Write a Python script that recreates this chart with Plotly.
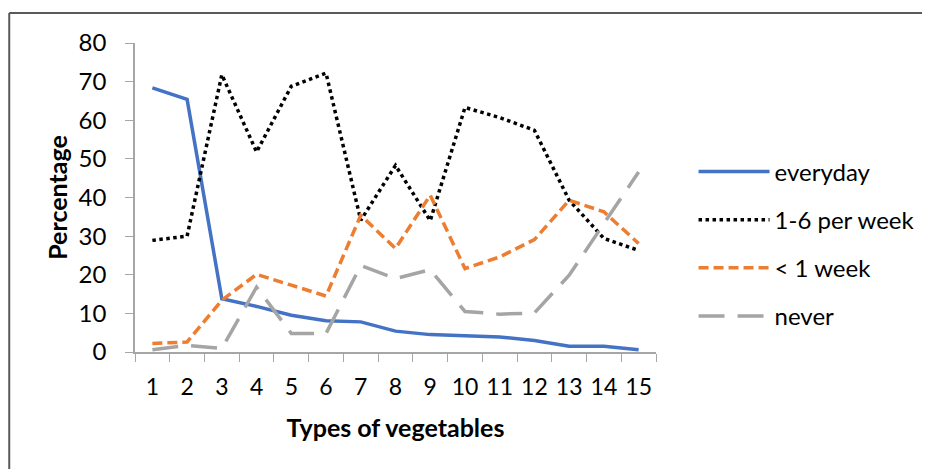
import plotly.graph_objects as go

categories = [str(i) for i in range(1, 16)]
series_names = ["everyday", "1-6 per week", "< 1 week", "never"]
everyday = [68.4, 65.4, 13.8, 11.8, 9.5, 8.1, 7.8, 5.4, 4.5, 4.1, 3.9, 3.0, 1.5, 1.5, 0.6]
per_week = [28.9, 30.0, 71.8, 51.8, 68.8, 72.2, 34.1, 48.3, 34.0, 63.3, 60.7, 57.4, 39.3, 29.4, 26.3]
less_week = [2.2, 2.6, 13.4, 20.1, 17.3, 14.5, 35.4, 26.8, 40.6, 21.6, 24.6, 29.1, 39.3, 36.3, 28.1]
never = [0.6, 1.7, 0.9, 16.8, 4.8, 4.8, 22.4, 19.0, 21.3, 10.5, 9.8, 10.1, 19.9, 33.2, 46.6]
y_ticks = [0, 10, 20, 30, 40, 50, 60, 70, 80]

FONT = "Lato"
styles = [
    dict(color="#4472C4", width=3.5, dash="solid"),
    dict(color="#000000", width=3.5, dash="dot"),
    dict(color="#ED7D31", width=3.5, dash="10px,5px"),
    dict(color="#A5A5A5", width=3.5, dash="26px,13px"),
]

fig = go.Figure()
for i, (name, vals) in enumerate(zip(series_names, [everyday, per_week, less_week, never])):
    fig.add_trace(go.Scatter(
        x=categories, y=vals, mode="lines", name=name,
        line=styles[i], legendgroup=f"g{i}",
    ))

# page body has an 8px margin, so the figure is 922x461 placed at (8,8)
W, H = 922, 461
L, T, R, B = 127, 35, 273, 117

fig.update_layout(
    width=W, height=H,
    margin=dict(l=L, r=R, t=T, b=B),
    paper_bgcolor="white", plot_bgcolor="white",
    font=dict(family=FONT, size=24, color="#000000"),
    showlegend=True,
    legend=dict(
        x=1.07, y=0.35, xanchor="left", yanchor="middle",
        font=dict(family=FONT, size=24, color="#000000"),
        tracegroupgap=14, itemwidth=71, bgcolor="rgba(0,0,0,0)",
    ),
    xaxis=dict(
        type="category", tickson="boundaries", ticks="outside", ticklen=8,
        tickcolor="#A6A6A6", showline=True, linecolor="#A6A6A6", linewidth=1.5,
        showgrid=False, zeroline=False, range=[-0.5, 14.5], tickangle=0,
        tickfont=dict(family=FONT, size=23), ticklabelstandoff=14,
        title=dict(text="<b>Types of vegetables</b>", font=dict(family=FONT, size=25), standoff=20),
    ),
    yaxis=dict(
        range=[0, 80], tickvals=y_ticks, ticks="outside", ticklen=8,
        tickcolor="#A6A6A6", showline=True, linecolor="#A6A6A6", linewidth=1.5,
        showgrid=False, zeroline=False,
        tickfont=dict(family=FONT, size=24), ticklabelstandoff=14,
        title=dict(text="<b>Percentage</b>", font=dict(family=FONT, size=25), standoff=4),
    ),
)

# chart frame (left and top edges), in figure pixels converted to paper coords
PW = W - L - R
PH = H - T - B

def px_x(p):
    return (p - L) / PW

def px_y(p):
    return (H - B - p) / PH

fig.add_shape(type="line", xref="paper", yref="paper",
              x0=px_x(1), x1=px_x(W + 2), y0=px_y(5), y1=px_y(5),
              line=dict(color="#595959", width=2))
fig.add_shape(type="line", xref="paper", yref="paper",
              x0=px_x(1), x1=px_x(1), y0=px_y(5), y1=px_y(H + 2),
              line=dict(color="#595959", width=2))

fig.write_html("out.html", config={"displayModeBar": False})
